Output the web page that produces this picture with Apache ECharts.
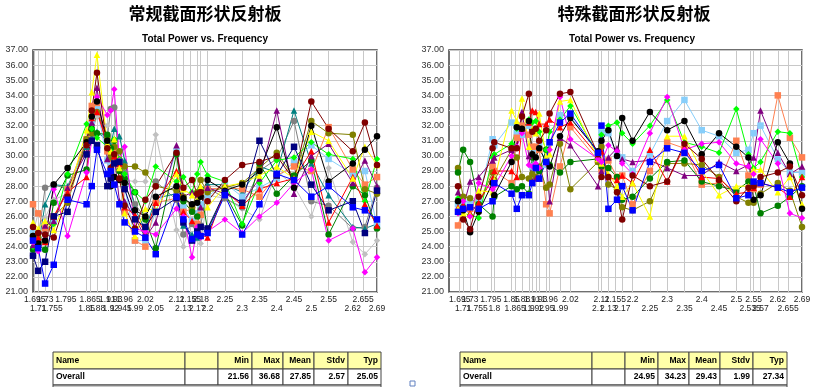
<!DOCTYPE html>
<html><head><meta charset="utf-8">
<script src="https://cdn.jsdelivr.net/npm/echarts@6/dist/echarts.min.js"></script>
<style>html,body{margin:0;padding:0;background:#fff}#c{width:814px;height:387px}</style>
</head><body><div id="c"></div>
<script>
// ---------- titles ----------
const leftTitle = '常规截面形状反射板';
const rightTitle = '特殊截面形状反射板';
const subTitle = 'Total Power vs. Frequency';

// ---------- frequencies (GHz) ----------
const leftFreqs = [1.695,1.71,1.73,1.755,1.795,1.85,1.865,1.88,1.91,1.92,1.93,1.945,1.96,1.99,2.02,2.05,2.11,2.13,2.155,2.17,2.18,2.2,2.25,2.3,2.35,2.4,2.45,2.5,2.55,2.62,2.655,2.69];
const rightFreqs = [1.695,1.71,1.73,1.755,1.795,1.8,1.85,1.865,1.88,1.9,1.91,1.92,1.93,1.95,1.96,1.99,2.02,2.1,2.11,2.13,2.155,2.17,2.2,2.25,2.3,2.35,2.4,2.45,2.5,2.535,2.55,2.57,2.62,2.655,2.69];

// ---------- left chart series values ----------
const leftBlue = [24.4,23.9,21.56,22.8,27.1,26.8,28.0,30.4,28.8,29.0,28.1,26.8,25.6,25.0,24.6,23.5,27.3,25.8,24.5,24.8,24.7,24.9,27.4,24.8,26.8,28.8,28.4,27.3,28.0,26.6,26.4,25.8];
const leftNavy = [23.4,22.4,23.0,26.0,26.3,30.1,31.0,30.7,28.0,28.5,29.5,29.6,27.8,25.8,25.3,26.3,27.2,25.6,24.4,25.0,25.3,25.2,27.6,26.9,31.0,28.7,30.6,28.1,26.4,27.0,24.9,27.7];
const leftRed = [24.4,24.6,24.3,26.0,27.6,28.6,32.5,32.9,30.8,29.3,30.0,29.5,26.6,26.1,24.9,26.9,29.0,26.3,25.7,25.0,24.8,24.6,27.7,26.7,27.8,28.2,28.5,30.3,25.6,28.6,26.8,25.4];
const leftGreen = [24.0,23.8,24.8,25.5,28.8,32.1,31.8,31.2,30.6,30.3,31.1,29.8,28.8,27.6,27.0,29.3,28.3,28.6,27.6,28.8,29.6,28.7,28.3,25.5,28.2,29.7,29.9,30.9,30.1,29.8,27.0,29.8];
const leftMaroon = [25.3,24.9,24.8,24.6,27.3,30.7,33.0,35.5,30.5,29.2,30.1,28.5,26.7,25.2,27.1,28.0,30.2,27.9,28.4,27.5,27.6,27.0,28.4,29.4,29.6,30.0,28.4,33.6,31.8,30.3,32.2,29.4];
const leftBlack = [24.7,24.2,24.4,28.1,29.2,30.9,32.6,33.6,31.0,28.0,28.6,28.4,28.2,26.4,26.0,27.3,28.0,27.2,26.8,26.9,27.3,28.4,27.7,28.1,29.0,31.9,27.9,32.0,28.3,29.5,30.4,31.3];
const leftPurple = [24.1,24.5,25.4,25.7,27.9,30.2,32.2,34.5,29.8,28.6,30.0,27.0,27.0,25.9,24.6,25.6,30.7,27.3,27.6,27.4,26.6,27.9,27.5,26.9,28.5,33.0,27.5,30.0,30.8,28.2,29.7,28.0];
const leftTeal = [24.5,24.0,26.8,28.1,28.0,30.6,31.2,31.6,31.0,30.7,31.8,31.3,29.7,26.5,25.1,27.2,27.5,25.4,24.8,24.6,27.8,28.1,28.1,27.6,29.3,28.9,33.0,29.5,27.4,25.3,25.2,25.5];
const leftGray = [23.4,24.5,27.9,28.1,27.8,30.9,31.3,33.0,31.3,33.1,33.2,29.2,28.9,26.8,25.9,28.3,27.1,24.8,25.5,24.8,25.4,27.9,27.2,26.6,29.0,29.8,32.3,27.0,26.7,25.2,25.3,27.9];
const leftSilver = [24.9,26.2,25.9,27.1,27.5,31.0,31.5,32.6,32.0,30.8,30.1,29.3,28.4,28.3,28.3,31.4,25.1,24.0,25.8,24.5,24.2,27.4,27.2,26.5,25.8,29.0,28.0,26.0,29.2,24.3,23.5,24.4];
const leftYellow = [25.6,25.2,25.7,25.1,27.3,31.7,34.2,36.68,30.8,30.3,31.1,29.2,26.2,24.7,26.5,26.4,28.8,27.8,27.4,27.1,28.0,26.6,28.0,28.2,28.7,29.3,28.5,31.6,31.0,28.5,30.6,29.4];
const leftMagenta = [24.3,23.7,24.5,27.8,24.7,28.9,31.0,33.9,32.7,33.0,34.4,29.7,30.6,25.2,25.0,24.8,26.5,26.0,23.3,25.3,24.6,25.0,25.8,24.9,26.0,26.9,28.2,29.1,24.4,25.2,22.3,23.3];
const leftSalmon = [26.8,26.2,25.2,26.0,27.8,31.1,33.3,33.5,30.3,29.8,30.5,29.4,26.3,24.4,24.0,26.9,27.2,26.3,26.5,25.5,26.1,27.8,27.9,27.8,27.3,28.7,29.3,29.0,31.9,29.1,28.1,28.6];
const leftLightBlue = [24.9,24.2,25.0,25.7,27.8,30.8,32.3,33.2,29.7,29.5,30.3,29.6,28.0,24.4,24.4,26.3,30.3,26.6,25.7,26.2,26.8,27.3,28.2,27.3,27.9,28.5,29.6,30.7,29.8,28.8,29.0,25.4];
const leftOlive = [24.7,24.6,24.3,26.0,26.9,31.1,31.5,32.9,31.2,29.9,30.6,30.3,29.3,29.3,28.9,28.0,27.7,27.3,26.6,27.6,28.4,27.6,27.9,28.2,29.2,30.2,28.6,32.3,31.5,31.4,27.8,27.5];
const leftDarkGreen = [23.8,24.1,23.8,26.9,28.7,29.1,31.8,31.5,31.4,30.5,31.0,29.0,28.5,27.6,25.8,23.9,30.1,27.0,26.3,26.0,27.8,25.1,27.5,25.4,29.5,27.5,28.7,29.7,24.8,28.0,27.4,25.2];

// ---------- right chart series values ----------
const rightBlue = [26.3,26.5,26.6,26.5,27.0,28.2,27.5,26.5,27.4,27.4,28.2,29.2,28.5,29.6,30.9,32.2,32.8,30.2,32.0,26.5,27.1,28.0,26.4,29.6,30.5,30.2,29.0,29.4,27.2,27.4,28.3,28.2,27.9,27.6,27.9];
const rightRed = [26.6,26.8,26.2,26.9,28.5,29.0,29.0,28.6,31.8,32.2,33.0,32.9,32.1,32.1,32.4,31.9,32.2,30.0,30.3,28.6,28.4,28.7,28.2,30.4,28.3,30.6,28.6,28.5,27.5,27.6,27.9,28.2,27.9,27.3,28.6];
const rightGreen = [27.2,26.7,26.1,25.9,29.9,30.1,30.8,31.8,31.8,32.4,32.2,32.3,31.6,30.4,31.6,32.4,33.3,30.1,31.4,32.0,32.2,31.5,30.8,32.0,33.7,30.9,30.6,30.2,33.1,30.1,29.2,29.6,31.6,31.5,28.6];
const rightMaroon = [28.0,25.8,25.15,27.3,30.5,30.9,30.5,30.5,32.6,34.1,31.6,31.8,31.0,31.7,32.8,34.1,34.23,30.1,28.6,28.6,27.6,25.8,28.7,28.0,28.3,30.8,29.8,28.4,27.0,27.9,28.0,28.6,28.9,29.3,27.4];
const rightBlack = [27.0,26.4,24.95,26.3,28.2,27.4,29.6,31.9,31.8,32.3,30.1,29.9,30.5,29.6,29.3,31.3,32.5,30.3,31.0,31.7,30.0,32.5,31.0,32.9,31.7,32.3,30.1,31.5,30.6,29.9,27.1,27.4,30.9,29.5,26.5];
const rightPurple = [27.6,26.6,28.3,28.6,29.7,29.9,30.4,30.7,32.9,30.0,28.3,28.5,28.5,29.8,27.0,31.2,30.7,28.0,29.0,29.9,30.5,29.8,29.6,29.7,29.2,28.7,28.7,29.6,29.0,29.4,29.9,33.0,30.2,28.8,29.3];
const rightYellow = [26.5,26.2,26.1,27.7,27.6,28.4,33.0,32.3,33.8,30.6,31.8,31.5,32.8,29.9,30.1,33.6,33.7,29.8,29.5,28.8,28.0,27.3,28.2,26.0,31.3,31.3,29.0,27.4,28.0,28.0,29.1,29.1,27.6,28.6,26.8];
const rightMagenta = [26.2,27.0,26.0,28.2,27.8,28.0,30.0,30.6,31.5,29.4,29.3,29.5,29.2,29.5,30.4,33.9,31.1,29.8,29.6,30.7,30.3,29.5,28.8,31.5,33.9,30.4,30.8,30.9,29.5,29.3,28.8,31.1,29.5,26.2,25.9];
const rightSalmon = [25.4,26.5,26.5,26.7,29.3,29.0,28.2,31.2,32.0,31.4,30.6,30.6,30.4,26.8,26.2,29.3,31.9,29.7,29.1,29.7,28.6,28.7,26.8,29.0,30.9,30.5,28.1,28.2,31.0,28.7,27.8,28.1,34.0,31.2,29.9];
const rightLightBlue = [26.8,26.9,27.0,27.1,31.1,30.7,32.2,31.5,31.4,32.0,29.3,30.5,30.7,29.4,30.9,32.7,32.6,30.2,31.6,31.5,30.0,29.9,29.0,30.1,32.3,33.7,31.7,31.3,30.2,30.4,31.5,32.0,29.8,28.9,28.9];
const rightOlive = [29.2,27.3,27.2,26.8,28.9,28.4,30.4,29.9,28.6,28.5,28.8,28.6,29.3,27.9,28.1,30.8,27.8,29.6,30.6,28.1,27.8,26.6,26.4,27.0,29.5,29.5,29.4,28.6,27.3,26.9,26.9,27.5,28.2,27.7,25.3];
const rightDarkGreen = [28.9,30.4,29.6,26.8,26.0,27.3,28.0,27.8,28.0,27.5,29.9,29.3,29.0,30.4,29.4,28.9,29.6,29.8,29.3,29.2,28.6,27.1,27.3,28.5,29.6,29.7,28.3,28.0,27.7,28.3,28.1,26.2,26.7,27.3,28.0];

// ---------- stats tables ----------
const tableHeader = ['Name','','Min','Max','Mean','Stdv','Typ'];
const leftStats = ['Overall','','21.56','36.68','27.85','2.57','25.05'];
const rightStats = ['Overall','','24.95','34.23','29.43','1.99','27.34'];

// ---------- styles ----------
const S = {
  blue:{color:'#0000FF',symbol:'rect'}, navy:{color:'#000080',symbol:'rect'},
  red:{color:'#FF0000',symbol:'triangle'}, green:{color:'#00FF00',symbol:'diamond'},
  maroon:{color:'#800000',symbol:'circle'}, black:{color:'#000000',symbol:'circle'},
  purple:{color:'#800080',symbol:'triangle'}, teal:{color:'#008080',symbol:'triangle'},
  gray:{color:'#808080',symbol:'circle'}, silver:{color:'#C0C0C0',symbol:'diamond'},
  yellow:{color:'#FFFF00',symbol:'triangle'}, magenta:{color:'#FF00FF',symbol:'diamond'},
  salmon:{color:'#FF8050',symbol:'rect'}, lightblue:{color:'#87CEFA',symbol:'rect'},
  olive:{color:'#808000',symbol:'circle'}, darkgreen:{color:'#008000',symbol:'circle'}
};
const leftSet = [['silver',leftSilver],['gray',leftGray],['teal',leftTeal],['lightblue',leftLightBlue],['salmon',leftSalmon],['olive',leftOlive],['darkgreen',leftDarkGreen],['green',leftGreen],['purple',leftPurple],['red',leftRed],['yellow',leftYellow],['magenta',leftMagenta],['black',leftBlack],['maroon',leftMaroon],['navy',leftNavy],['blue',leftBlue]];
const rightSet = [['lightblue',rightLightBlue],['salmon',rightSalmon],['olive',rightOlive],['darkgreen',rightDarkGreen],['green',rightGreen],['purple',rightPurple],['red',rightRed],['yellow',rightYellow],['magenta',rightMagenta],['black',rightBlack],['maroon',rightMaroon],['blue',rightBlue]];

const chart = echarts.init(document.getElementById('c'));

function xAxisFor(idx, min, max){
  return {gridIndex:idx, type:'value', min:min, max:max,
    axisLine:{show:false}, axisTick:{show:false}, splitLine:{show:false}, axisLabel:{show:false}};
}
function yAxisFor(idx){
  return {gridIndex:idx, type:'value', min:21, max:37, interval:1,
    axisLine:{show:false}, axisTick:{show:false},
    splitLine:{lineStyle:{color:'#C8C8C8', width:1}},
    axisLabel:{formatter:v=>v.toFixed(2), fontSize:9, color:'#333', margin:5, fontFamily:'Liberation Sans, Arial'}};
}
// vertical grid line at every frequency, labelled at its bottom end (two staggered rows)
function gridLines(idx, freqs){
  return {type:'line', xAxisIndex:idx, yAxisIndex:idx, data:freqs.map(f=>[f,null]), symbol:'none', silent:true,
    markLine:{silent:true, z:1, symbol:['none','none'], animation:false,
      lineStyle:{color:'#C8C8C8', width:1, type:'solid'}, emphasis:{disabled:true},
      data:freqs.map((f,i)=>({xAxis:f,
        label:{show:true, position:'start', distance: (i%2)?12:3, formatter:String(f),
          fontSize:8.5, color:'#222', fontFamily:'Liberation Sans, Arial'}}))}};
}
function seriesFor(idx, freqs, set){
  return set.map(([k, vals]) => ({
    type:'line', name:k, xAxisIndex:idx, yAxisIndex:idx,
    data:freqs.map((f,i)=>[f, vals[i]]),
    symbol:S[k].symbol, symbolSize:6.5, showSymbol:true,
    lineStyle:{width:1, color:S[k].color}, itemStyle:{color:S[k].color},
    emphasis:{disabled:true}
  }));
}

function tableGraphics(edges, header, stats){
  const g = [];
  const rows = [[352,369,'#FFFFA8',header],[369,385,'#FFFFFF',stats]];
  rows.forEach(([y0,y1,fill,vals])=>{
    for(let c=0;c<edges.length-1;c++){
      const x0 = edges[c], x1 = edges[c+1];
      g.push({type:'rect', shape:{x:x0, y:y0, width:x1-x0, height:y1-y0}, style:{fill:fill, stroke:'#444', lineWidth:1}});
      if (vals[c]) {
        const left = c===0;
        g.push({type:'text', x: left ? x0+3 : x1-3, y:(y0+y1)/2,
          style:{text:vals[c], align: left?'left':'right', verticalAlign:'middle',
            font:'bold 8.5px "Liberation Sans Narrow", "Liberation Sans", Arial', fill:'#000'}});
      }
    }
  });
  g.push({type:'rect', shape:{x:edges[0], y:385, width:edges[edges.length-1]-edges[0], height:6}, style:{fill:'#C8C8C8', stroke:'#444', lineWidth:1}});
  return g;
}
const leftEdges = [53,185,218,252,283,314,348,381];
const rightEdges = [460,592,625,658,689,720,753,787];

const graphics = [
  {type:'text', x:205, y:14, style:{text:leftTitle, align:'center', verticalAlign:'middle', font:'bold 17px "Noto Sans CJK SC"', fill:'#000'}},
  {type:'text', x:634, y:14, style:{text:rightTitle, align:'center', verticalAlign:'middle', font:'bold 17px "Noto Sans CJK SC"', fill:'#000'}},
  {type:'text', x:205, y:39, style:{text:subTitle, align:'center', verticalAlign:'middle', font:'bold 10px "Liberation Sans", Arial', fill:'#000'}},
  {type:'text', x:632, y:39, style:{text:subTitle, align:'center', verticalAlign:'middle', font:'bold 10px "Liberation Sans", Arial', fill:'#000'}},
  {type:'rect', shape:{x:410, y:381, width:5, height:5}, style:{fill:'#fff', stroke:'#6080C0', lineWidth:1}}
].concat(tableGraphics(leftEdges, tableHeader, leftStats), tableGraphics(rightEdges, tableHeader, rightStats));

chart.setOption({
  animation:false,
  backgroundColor:'#fff',
  grid:[
    {left:33, top:50, width:344, height:242, show:true, borderColor:'#404040', borderWidth:1.5, backgroundColor:'rgba(0,0,0,0)'},
    {left:449, top:50, width:353, height:242, show:true, borderColor:'#404040', borderWidth:1.5, backgroundColor:'rgba(0,0,0,0)'}
  ],
  xAxis:[xAxisFor(0, 1.695, 2.69), xAxisFor(1, 1.669, 2.69)],
  yAxis:[yAxisFor(0), yAxisFor(1)],
  series:[gridLines(0, leftFreqs), gridLines(1, rightFreqs)]
    .concat(seriesFor(0, leftFreqs, leftSet), seriesFor(1, rightFreqs, rightSet)),
  graphic:graphics
});
</script></body></html>
